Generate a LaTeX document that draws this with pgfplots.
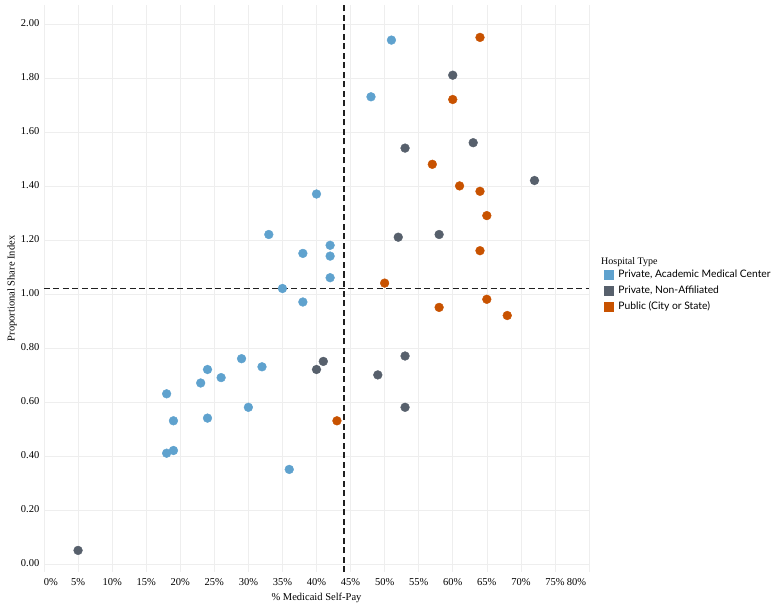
\documentclass[border=0pt]{standalone}
\usepackage{fontspec}
\setmainfont{Liberation Serif}
\newfontfamily\legfont{Lato}
\usepackage{pgfplots}
\pgfplotsset{compat=1.18}
\definecolor{cblue}{HTML}{5FA2CE}
\definecolor{cgray}{HTML}{57606C}
\definecolor{corange}{HTML}{C85200}
\definecolor{gridc}{HTML}{EEEEEE}
\begin{document}
\fontsize{10.5pt}{12pt}\selectfont
\begin{tikzpicture}
\begin{axis}[
  scale only axis,
  width=545pt, height=567pt,
  xmin=0, xmax=80, ymin=-0.03, ymax=2.07,
  xtick={0,5,...,80},
  xticklabels={\makebox[0pt][l]{0\%},5\%,10\%,15\%,20\%,25\%,30\%,35\%,40\%,45\%,50\%,55\%,60\%,65\%,70\%,75\%,\makebox[0pt][r]{80\%\hspace{3pt}}},
  ytick={0,0.2,...,2.01},
  yticklabel={\pgfmathprintnumber[fixed,fixed zerofill,precision=2]{\tick}},
  /pgf/number format/assume math mode=true,
  ticklabel style={font=\rmfamily\fontsize{10.5pt}{12pt}\selectfont},
  xticklabel style={yshift=-3pt},
  yticklabel style={xshift=-1pt, yshift=1pt},
  grid=major,
  major grid style={gridc, line width=0.6pt},
  axis line style={draw=none},
  tick style={draw=none},
  xlabel={\% Medicaid Self-Pay},
  ylabel={Proportional Share Index},
  every axis x label/.style={at={(axis description cs:0.5,0)}, anchor=center, yshift=-26pt},
  every axis y label/.style={at={(axis description cs:0,0.5)}, rotate=90, anchor=center, yshift=32pt},
  label style={font=\rmfamily\fontsize{10.5pt}{12pt}\selectfont},
  legend style={at={(1.0273,0.5345)}, anchor=north west, draw=none, fill=none,
    font=\legfont\fontsize{10.3pt}{12pt}\selectfont, row sep=4.6pt, column sep=1.5pt,
    inner sep=0pt, nodes={inner xsep=3.5pt, inner ysep=1pt}},
  legend cell align=left,
  clip=false,
]
\addplot[black!88, line width=1.5pt, dash pattern=on 6pt off 3.5pt, forget plot] coordinates {(44,-0.03) (44,2.07)};
\addplot[black!88, line width=1.5pt, dash pattern=on 6pt off 3.5pt, forget plot] coordinates {(0,1.02) (80,1.02)};
\addplot[cblue, only marks, mark=*, mark size=4.4pt, mark options={draw=none, fill=cblue},
  legend image code/.code={\fill[cblue] (0pt,-4.5pt) rectangle (9pt,4.5pt);}] coordinates {
(51,1.94) (48,1.73) (40,1.37) (33,1.22) (42,1.18) (38,1.15) (42,1.14) (42,1.06)
(35,1.02) (38,0.97) (29,0.76) (32,0.73) (24,0.72) (26,0.69) (23,0.67) (18,0.63)
(30,0.58) (24,0.54) (19,0.53) (19,0.42) (18,0.41) (36,0.35)
};
\addlegendentry{Private, Academic Medical Center}
\addplot[cgray, only marks, mark=*, mark size=4.4pt, mark options={draw=none, fill=cgray},
  legend image code/.code={\fill[cgray] (0pt,-4.5pt) rectangle (9pt,4.5pt);}] coordinates {
(60,1.81) (53,1.54) (63,1.56) (72,1.42) (52,1.21) (58,1.22) (53,0.77) (41,0.75)
(40,0.72) (49,0.70) (53,0.58) (5,0.05)
};
\addlegendentry{Private, Non-Affiliated}
\addplot[corange, only marks, mark=*, mark size=4.4pt, mark options={draw=none, fill=corange},
  legend image code/.code={\fill[corange] (0pt,-4.5pt) rectangle (9pt,4.5pt);}] coordinates {
(64,1.95) (60,1.72) (57,1.48) (61,1.40) (64,1.38) (65,1.29) (64,1.16) (50,1.04)
(65,0.98) (58,0.95) (68,0.92) (43,0.53)
};
\addlegendentry{Public (City or State)}
\node[anchor=south west, inner sep=0pt, font=\rmfamily\fontsize{10pt}{12pt}\selectfont] at (rel axis cs:1.022,0.5377) {Hospital Type};
\end{axis}
\pgfresetboundingbox
\path (-44pt,-34pt) rectangle (727pt,572pt);
\end{tikzpicture}
\end{document}
